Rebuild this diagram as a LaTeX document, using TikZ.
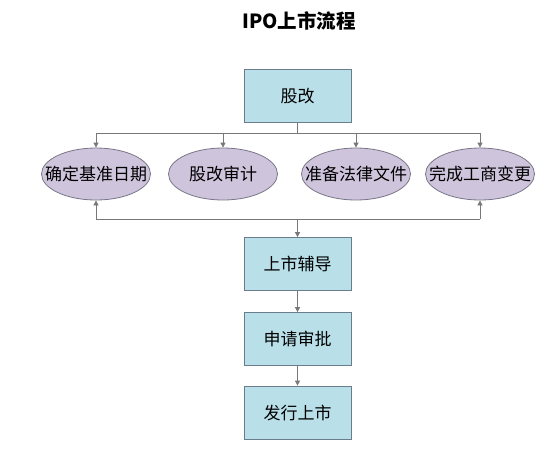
\documentclass[tikz,border=0pt]{standalone}
\usepackage{fontspec}
\setmainfont{Noto Sans CJK SC}
\usetikzlibrary{shapes.geometric,arrows.meta}
\definecolor{boxfill}{RGB}{185,223,233}
\definecolor{boxline}{RGB}{105,125,140}
\definecolor{ovalfill}{RGB}{206,196,220}
\definecolor{ovalline}{RGB}{120,118,135}
\definecolor{linegray}{RGB}{120,120,120}
\newcommand{\zw}[1]{\makebox[0pt]{#1}}
\begin{document}
\begin{tikzpicture}[x=1pt,y=-1pt,
  box/.style={draw=boxline,fill=boxfill,line width=0.8pt,minimum width=107pt,minimum height=53pt,inner sep=0pt,font=\fontsize{17}{19}\selectfont},
  oval/.style={ellipse,draw=ovalline,fill=ovalfill,line width=0.8pt,minimum width=109pt,minimum height=52pt,inner sep=0pt,font=\fontsize{17}{19}\selectfont},
  conn/.style={draw=linegray,line width=0.8pt},
  arr/.style={conn,-{Triangle[length=5pt,width=5pt]}}]
\useasboundingbox (0,0) rectangle (559,448);
\node[font=\bfseries\fontsize{19.5}{22}\selectfont] (title) at (299,21) {IPO上市流程};
\node[box] (gg) at (297.5,96) {股改};
\node[oval] (e1) at (96,174) {\zw{确定基准日期}};
\node[oval] (e2) at (223,174) {\zw{股改审计}};
\node[oval] (e3) at (356,174) {\zw{准备法律文件}};
\node[oval] (e4) at (480,174) {\zw{完成工商变更}};
\node[box] (b1) at (297.5,264) {上市辅导};
\node[box] (b2) at (297.5,339) {申请审批};
\node[box] (b3) at (297.5,412.5) {发行上市};
\coordinate (t0) at (297.5,133);
\coordinate (tl) at (96,133);
\coordinate (tr) at (480,133);
\coordinate (bl) at (96,219);
\coordinate (br) at (480,219);
\coordinate (bc) at (297.5,219);
\draw[conn] (gg.south) -- (t0);
\draw[conn] (tl) -- (tr);
\draw[arr] (tl) -- (e1.north);
\draw[arr] (e2.north |- t0) -- (e2.north);
\draw[arr] (e3.north |- t0) -- (e3.north);
\draw[arr] (tr) -- (e4.north);
\draw[conn] (bl) -- (br);
\draw[arr] (bl) -- (e1.south);
\draw[arr] (br) -- (e4.south);
\draw[arr] (bc) -- (b1.north);
\draw[arr] (b1) -- (b2);
\draw[arr] (b2) -- (b3);
\end{tikzpicture}
\end{document}
